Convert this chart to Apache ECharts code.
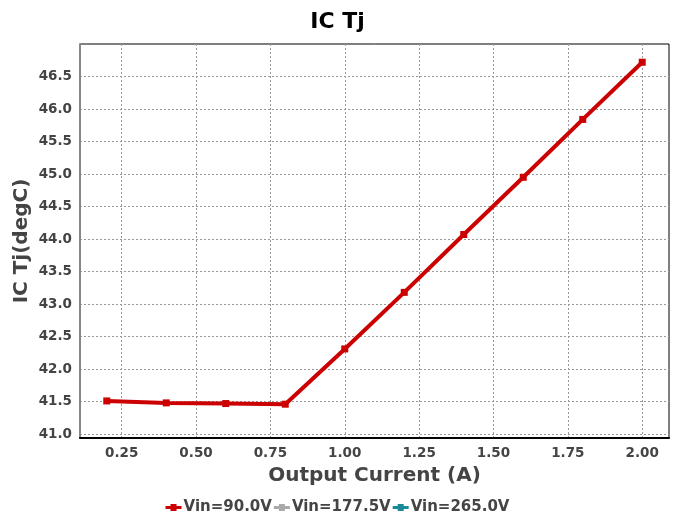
<!DOCTYPE html>
<html>
<head>
<meta charset="utf-8">
<script src="https://cdn.jsdelivr.net/npm/echarts@6/dist/echarts.min.js"></script>
<style>
  html, body { margin: 0; padding: 0; background: #fff; }
  #chart { width: 675px; height: 515px; }
</style>
</head>
<body>
<div id="chart"></div>
<script>
// values
let current = [0.2, 0.4, 0.6, 0.8, 1.0, 1.2, 1.4, 1.6, 1.8, 2.0];
let tj_90 = [41.51, 41.48, 41.47, 41.46, 42.31, 43.18, 44.07, 44.95, 45.84, 46.72];
let tj_177 = [];
let tj_265 = [];
let xTicks = [0.25, 0.5, 0.75, 1.0, 1.25, 1.5, 1.75, 2.0];
let yTicks = [41.0, 41.5, 42.0, 42.5, 43.0, 43.5, 44.0, 44.5, 45.0, 45.5, 46.0, 46.5];

let chart = echarts.init(document.getElementById('chart'));

let font = 'DejaVu Sans';
let pairs = (ys) => ys.map((y, i) => [current[i], y]);
// thick line with a square in the middle, like the legend swatch of the original
let legendIcon = 'path://M0,3H16V6H0Z M5,1H11V8H5Z';

let makeSeries = (name, color, ys) => {
    return {
        name: name,
        type: 'line',
        data: pairs(ys),
        symbol: 'rect',
        symbolSize: 7,
        color: color,
        lineStyle: { width: 4, color: color },
        itemStyle: { color: color },
        animation: false
    }
};

chart.setOption({
    title: {
        text: 'IC Tj',
        left: 'center',
        top: 6,
        textStyle: { fontFamily: font, fontWeight: 'bold', fontSize: 22, color: '#000' }
    },
    legend: {
        bottom: 0,
        left: 'center',
        padding: 0,
        itemWidth: 16,
        itemHeight: 8,
        itemGap: 2,
        icon: legendIcon,
        textStyle: { fontFamily: font, fontWeight: 'bold', fontSize: 15, color: '#444', padding: [0, 0, 0, -3] },
        data: ['Vin=90.0V', 'Vin=177.5V', 'Vin=265.0V']
    },
    grid: {
        left: 80,
        right: 6,
        top: 44,
        bottom: 77,
        show: true,
        borderColor: '#000',
        borderWidth: 1
    },
    xAxis: {
        type: 'value',
        min: 0.11,
        max: 2.09,
        name: 'Output Current (A)',
        nameLocation: 'middle',
        nameGap: 28,
        nameMoveOverlap: false,
        nameTextStyle: { fontFamily: font, fontWeight: 'bold', fontSize: 20, color: '#444' },
        axisLine: { lineStyle: { color: '#000', width: 2 } },
        axisTick: { show: false, customValues: xTicks },
        axisLabel: {
            customValues: xTicks,
            fontFamily: font, fontWeight: 'bold', fontSize: 13.5, color: '#444', margin: 8,
            formatter: (v) => v.toFixed(2)
        },
        splitLine: { show: true, lineStyle: { color: '#999', type: [2, 2], width: 1 } }
    },
    yAxis: {
        type: 'value',
        min: 40.94,
        max: 47.0,
        name: 'IC Tj(degC)',
        nameLocation: 'middle',
        nameGap: 48,
        nameMoveOverlap: false,
        nameTextStyle: { fontFamily: font, fontWeight: 'bold', fontSize: 20, color: '#444' },
        axisLine: { show: true, lineStyle: { color: '#888', width: 2 } },
        axisTick: { show: false, customValues: yTicks },
        axisLabel: {
            customValues: yTicks,
            fontFamily: font, fontWeight: 'bold', fontSize: 13.5, color: '#444', margin: 8,
            formatter: (v) => v.toFixed(1)
        },
        splitLine: { show: true, lineStyle: { color: '#999', type: [2, 2], width: 1 } }
    },
    series: [
        makeSeries('Vin=90.0V', '#cc0000', tj_90),
        makeSeries('Vin=177.5V', '#aaaaaa', tj_177),
        makeSeries('Vin=265.0V', '#1a8a9a', tj_265)
    ]
});
</script>
</body>
</html>
